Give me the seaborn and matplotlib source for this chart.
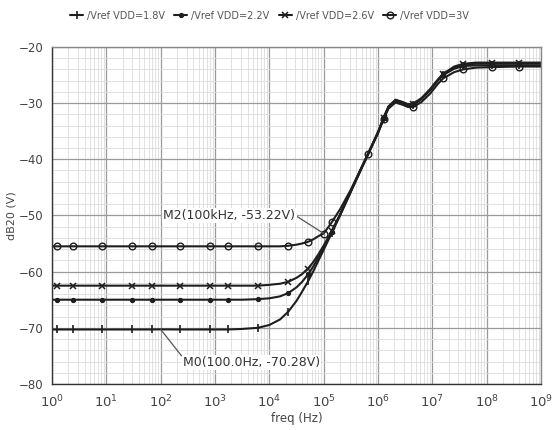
import numpy as np
import pandas as pd
import matplotlib
matplotlib.use("Agg")
import matplotlib.pyplot as plt
from matplotlib.ticker import MultipleLocator, FixedLocator, LogLocator, NullFormatter
import seaborn as sns

# ---- data ----
freq = [1, 1.23, 2.45, 8.3, 29.5, 69, 100, 229, 813, 1740, 3160, 6170, 1e4, 1.58e4,
        2.24e4, 3.16e4, 3.98e4, 5.13e4, 6.31e4, 7.94e4, 1e5, 1.41e5, 2e5, 3.16e5,
        5e5, 6.6e5, 1e6, 1.26e6, 1.55e6, 2.09e6, 2.82e6, 3.55e6, 4.47e6, 6.31e6,
        9.12e6, 1.26e7, 1.58e7, 2.51e7, 3.72e7, 6.31e7, 1.26e8, 3.98e8, 1e9]

v_18 = [-70.3, -70.3, -70.3, -70.3, -70.3, -70.3, -70.28, -70.3, -70.3, -70.3, -70.2, -70.0,
        -69.5, -68.5, -67.1, -65.2, -63.6, -61.75, -60.1, -58.1, -56.1, -53.1, -50.0, -45.8,
        -41.6, -39.1, -35.3, -32.8, -30.8, -29.6, -30.0, -30.4, -30.3, -29.3, -27.7, -26.0,
        -25.0, -23.9, -23.4, -23.3, -23.3, -23.3, -23.3]
v_22 = [-65.0, -65.0, -65.0, -65.0, -65.0, -65.0, -65.0, -65.0, -65.0, -65.0, -65.0, -64.9,
        -64.75, -64.4, -63.8, -62.8, -61.85, -60.5, -59.2, -57.5, -55.75, -52.9, -49.9, -45.7,
        -41.5, -39.0, -35.2, -32.7, -30.7, -29.5, -29.9, -30.3, -30.2, -29.2, -27.6, -25.9,
        -24.9, -23.7, -23.2, -23.0, -23.0, -23.0, -23.0]
v_26 = [-62.5, -62.5, -62.5, -62.5, -62.5, -62.5, -62.5, -62.5, -62.5, -62.5, -62.5, -62.5,
        -62.35, -62.15, -61.8, -61.1, -60.45, -59.45, -58.4, -56.95, -55.35, -52.7, -49.8, -45.6,
        -41.4, -38.9, -35.1, -32.6, -30.6, -29.4, -29.8, -30.2, -30.1, -29.1, -27.5, -25.8,
        -24.8, -23.5, -23.0, -22.8, -22.8, -22.8, -22.8]
v_30 = [-55.5, -55.5, -55.5, -55.5, -55.5, -55.5, -55.5, -55.5, -55.5, -55.5, -55.5, -55.5,
        -55.5, -55.5, -55.4, -55.2, -55.0, -54.7, -54.3, -53.7, -53.22, -51.2, -48.9, -45.4,
        -41.4, -39.0, -35.3, -32.9, -31.0, -29.9, -30.3, -30.7, -30.7, -29.8, -28.3, -26.6,
        -25.6, -24.5, -24.0, -23.7, -23.6, -23.5, -23.5]

labels = ["/Vref VDD=1.8V", "/Vref VDD=2.2V", "/Vref VDD=2.6V", "/Vref VDD=3V"]
series = [v_18, v_22, v_26, v_30]

x_ticks = [1, 1e1, 1e2, 1e3, 1e4, 1e5, 1e6, 1e7, 1e8, 1e9]

marker_idx_30 = [1, 2, 3, 4, 5, 7, 8, 9, 11, 14, 17, 20, 21, 25, 27, 32, 36, 38, 40, 41]
marker_idx = [1, 2, 3, 4, 5, 7, 8, 9, 11, 14, 17, 21, 27, 32, 36, 38, 40, 41]

m2_label = "M2(100kHz, -53.22V)"
m0_label = "M0(100.0Hz, -70.28V)"

# ---- plotting ----
sns.set_style("white")
plt.rcParams["font.family"] = ["DejaVu Sans"]

fig = plt.figure(figsize=(5.59, 4.30), dpi=100)
ax = fig.add_axes([0.093, 0.107, 0.875, 0.784])

line_col = "#1e1e1e"
styles = [
    dict(marker="|", markersize=5.5, markeredgewidth=1.2, markevery=marker_idx),
    dict(marker="o", markersize=3.0, markeredgewidth=0.8, markevery=marker_idx),
    dict(marker="x", markersize=4.2, markeredgewidth=1.1, markevery=marker_idx),
    dict(marker="o", markersize=4.8, markeredgewidth=1.0, markerfacecolor="none",
         markevery=marker_idx_30),
]

for lab, vals, st in zip(labels, series, styles):
    df = pd.DataFrame({"freq": freq, "val": vals})
    sns.lineplot(data=df, x="freq", y="val", ax=ax, color=line_col, linewidth=1.5,
                 sort=False, estimator=None, label=lab, markeredgecolor=line_col, **st)

ax.set_xscale("log")
ax.set_xlim(1, 1e9)
ax.set_ylim(-80, -20)
ax.yaxis.set_major_locator(MultipleLocator(10))
ax.yaxis.set_minor_locator(MultipleLocator(2))
ax.xaxis.set_major_locator(FixedLocator(x_ticks))
ax.xaxis.set_minor_locator(LogLocator(base=10, subs=np.arange(2, 10), numticks=200))
ax.xaxis.set_minor_formatter(NullFormatter())

ax.grid(which="major", color="#9a9a9a", linewidth=0.9)
ax.grid(which="minor", color="#dcdcdc", linewidth=0.6)
ax.set_axisbelow(True)

ax.tick_params(axis="both", which="major", direction="out", length=5, width=0.8,
               color="#555555", labelcolor="#444444")
ax.tick_params(axis="both", which="minor", direction="inout", length=4, width=0.6,
               color="#555555")
ax.tick_params(axis="y", labelsize=8.5, pad=1)
ax.tick_params(axis="x", labelsize=9.5, pad=2)

for s in ["left", "bottom"]:
    ax.spines[s].set_color("#333333")
    ax.spines[s].set_linewidth(1.0)
for s in ["top", "right"]:
    ax.spines[s].set_color("#888888")
    ax.spines[s].set_linewidth(1.0)

ax.set_xlabel("freq (Hz)", fontsize=8.5, color="#444444", labelpad=1)
ax.set_ylabel("dB20 (V)", fontsize=8, color="#444444", labelpad=2)

# marker annotations
ax.annotate(m2_label, xy=(1e5, -53.22), xytext=(112, -50.0), fontsize=9,
            color="#333333", ha="left", va="center",
            bbox=dict(boxstyle="square,pad=0.1", fc="white", ec="none"),
            arrowprops=dict(arrowstyle="-", color="#555555", lw=0.9,
                            shrinkA=0, shrinkB=0, relpos=(1.0, 0.5)))
ax.annotate(m0_label, xy=(100, -70.28), xytext=(255, -76.2), fontsize=9,
            color="#333333", ha="left", va="center",
            bbox=dict(boxstyle="square,pad=0.1", fc="white", ec="none"),
            arrowprops=dict(arrowstyle="-", color="#555555", lw=0.9,
                            shrinkA=0, shrinkB=0, relpos=(0.0, 0.9)))

handles, labs = ax.get_legend_handles_labels()
ax.legend_.remove()
fig.legend(handles, labs, loc="upper left", bbox_to_anchor=(0.11, 0.995), ncol=4,
           frameon=False, fontsize=7, handlelength=1.3, handletextpad=0.4,
           columnspacing=1.0, labelcolor="#555555")

fig.savefig("out.png", dpi=100)
